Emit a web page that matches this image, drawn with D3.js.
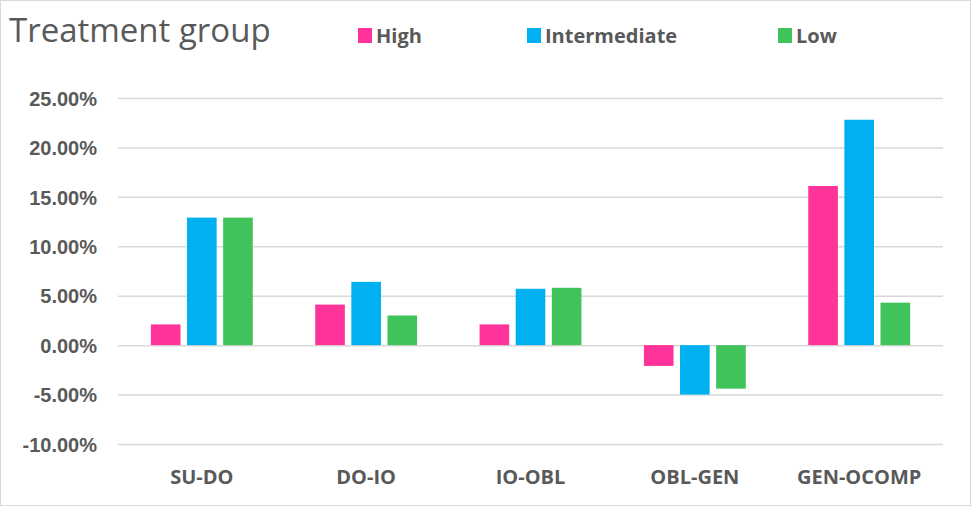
<!DOCTYPE html>
<html>
<head>
<meta charset="utf-8">
<script src="https://cdn.jsdelivr.net/npm/d3@7"></script>
<style>
  body { margin: 0; background: #fff; }
  svg { display: block; font-family: 'Open Sans', sans-serif; }
</style>
</head>
<body>
<div class="visHolder"></div>
<script>
const categories = ['SU-DO', 'DO-IO', 'IO-OBL', 'OBL-GEN', 'GEN-OCOMP'];
const seriesNames = ['High', 'Intermediate', 'Low'];
const highValues = [2.1, 4.1, 2.1, -2.1, 16.1];
const intermediateValues = [12.9, 6.4, 5.7, -5.0, 22.8];
const lowValues = [12.9, 3.0, 5.8, -4.4, 4.3];
const yTicks = [-10, -5, 0, 5, 10, 15, 20, 25];
const colors = ['#FF3399', '#00B0F0', '#40C35A'];

const width = 971,
    height = 506,
    plotLeft = 118,
    plotRight = 943,
    plotTop = 98,
    plotBottom = 444;

const svg = d3.select('.visHolder')
    .append('svg')
    .attr('width', width)
    .attr('height', height);

// outer frame
svg.append('rect')
    .attr('x', 0.5).attr('y', 0.5)
    .attr('width', width - 1).attr('height', height - 1)
    .attr('fill', '#fff')
    .attr('stroke', '#d9d9d9');

const rows = categories.map((c, i) => ({
    cat: c,
    vals: [highValues[i], intermediateValues[i], lowValues[i]]
}));

const yScale = d3.scaleLinear()
    .domain([-10, 25])
    .range([plotBottom, plotTop]);

const xScale = d3.scaleBand()
    .domain(categories)
    .range([plotLeft, plotRight])
    .paddingInner(0.38)
    .paddingOuter(0.2);

const xSub = d3.scaleBand()
    .domain(seriesNames)
    .range([0, xScale.bandwidth()])
    .paddingInner(0.18);

// gridlines
const yAxis = d3.axisLeft(yScale)
    .tickValues(yTicks)
    .tickSize(-(plotRight - plotLeft))
    .tickPadding(21)
    .tickFormat(d => d.toFixed(2) + '%');

const gy = svg.append('g')
    .attr('transform', `translate(${plotLeft},0)`)
    .call(yAxis);
gy.select('.domain').remove();
gy.selectAll('.tick line')
    .attr('stroke', '#d9d9d9')
    .attr('stroke-width', 1.5);
gy.selectAll('.tick text')
    .attr('fill', '#595959')
    .style('font-size', '20px')
    .style('font-weight', 'bold')
    .attr('dy', '0.36em');

// bars
const groups = svg.append('g')
    .selectAll('g')
    .data(rows)
    .enter()
    .append('g')
    .attr('transform', d => `translate(${xScale(d.cat)},0)`);

groups.selectAll('rect')
    .data(d => d.vals.map((v, j) => ({ v: v, s: seriesNames[j], j: j })))
    .enter()
    .append('rect')
    .attr('x', d => xSub(d.s))
    .attr('y', d => yScale(Math.max(0, d.v)))
    .attr('width', xSub.bandwidth())
    .attr('height', d => Math.abs(yScale(d.v) - yScale(0)))
    .attr('fill', d => colors[d.j]);

// category labels
svg.append('g')
    .selectAll('text')
    .data(categories)
    .enter()
    .append('text')
    .attr('x', d => xScale(d) + xScale.bandwidth() / 2)
    .attr('y', 484)
    .attr('text-anchor', 'middle')
    .attr('fill', '#595959')
    .style('font-size', '20px')
    .style('font-weight', 'bold')
    .text(d => d);

// title
svg.append('text')
    .attr('x', 9)
    .attr('y', 42)
    .attr('fill', '#595959')
    .style('font-size', '33px')
    .text('Treatment group');

// legend
const legendX = [358, 527, 778];
const legend = svg.append('g')
    .selectAll('g')
    .data(seriesNames)
    .enter()
    .append('g')
    .attr('transform', (d, i) => `translate(${legendX[i]},0)`);

legend.append('rect')
    .attr('x', 0).attr('y', 28)
    .attr('width', 14).attr('height', 15)
    .attr('fill', (d, i) => colors[i]);

legend.append('text')
    .attr('x', 18)
    .attr('y', 43)
    .attr('fill', '#595959')
    .style('font-size', '20px')
    .style('font-weight', 'bold')
    .text(d => d);
</script>
</body>
</html>
